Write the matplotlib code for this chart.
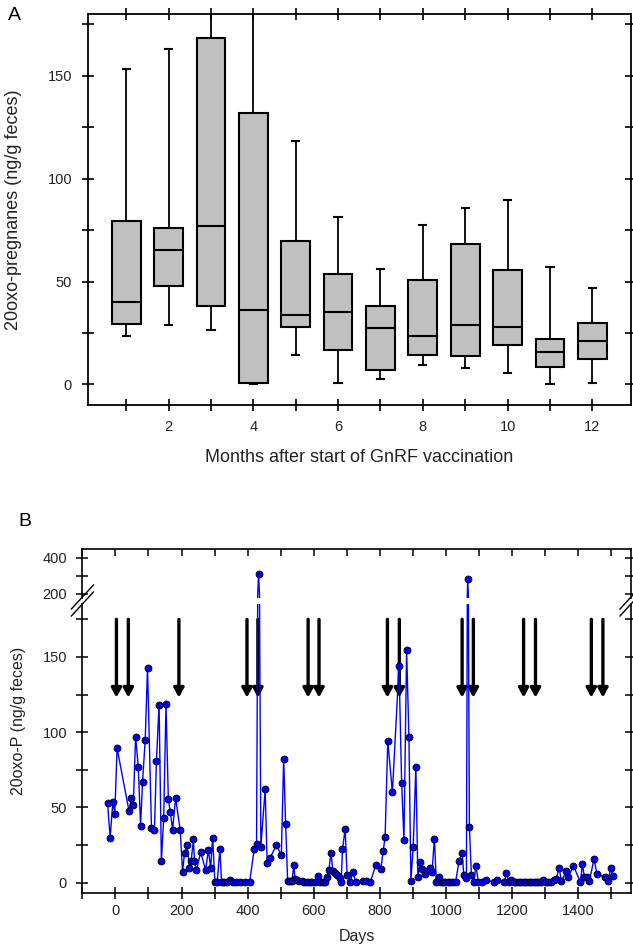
import numpy as np
import matplotlib
matplotlib.use("Agg")
import matplotlib.pyplot as plt
from matplotlib.ticker import MultipleLocator, FixedLocator
from matplotlib.lines import Line2D

plt.rcParams['font.family'] = ['Liberation Sans', 'DejaVu Sans']

# ---- panel A: monthly box plots of 20oxo-pregnanes
months = [1, 2, 3, 4, 5, 6, 7, 8, 9, 10, 11, 12]
whisker_lo = [23.7, 28.7, 26.4, 0.0, 14.4, 0.8, 2.4, 9.6, 7.9, 5.4, 0.3, 0.5]
q1 = [29.5, 47.7, 37.9, 0.6, 27.9, 16.5, 7.0, 14.1, 13.8, 19.1, 8.6, 12.3]
medians = [39.9, 65.2, 77.0, 36.2, 33.9, 35.4, 27.2, 23.5, 28.9, 28.1, 15.7, 20.9]
q3 = [79.3, 76.2, 168.5, 131.8, 69.7, 53.5, 37.9, 50.9, 68.3, 55.8, 21.9, 29.8]
whisker_hi = [153.2, 163.0, 200.0, 200.0, 118.4, 81.4, 56.3, 77.5, 85.9, 89.5, 57.2, 46.9]

# ---- panel B: daily 20oxo-P values and vaccination days
days = [-24, -16, -8, -2, 5, 41, 48, 54, 61, 69, 76, 82, 90, 97, 109, 118, 124, 132,
        139, 146, 153, 160, 166, 173, 182, 196, 203, 209, 217, 224, 229, 236, 239, 245,
        258, 273, 281, 288, 294, 301, 308, 316, 321, 329, 337, 348, 356, 366, 378, 392,
        406, 420, 427, 433, 440, 453, 459, 467, 487, 502, 509, 515, 521, 528, 534, 540,
        543, 549, 555, 563, 571, 580, 588, 596, 604, 612, 619, 627, 633, 639, 646, 652,
        658, 665, 671, 678, 683, 687, 695, 701, 711, 718, 728, 748, 757, 771, 788, 803,
        810, 816, 824, 838, 858, 866, 873, 881, 888, 894, 901, 909, 915, 922, 929, 937,
        944, 952, 958, 965, 971, 978, 984, 991, 998, 1006, 1013, 1021, 1029, 1040, 1049,
        1054, 1062, 1066, 1071, 1077, 1084, 1091, 1098, 1108, 1120, 1145, 1155, 1177,
        1183, 1190, 1198, 1205, 1213, 1220, 1228, 1235, 1243, 1250, 1258, 1265, 1272,
        1280, 1288, 1295, 1303, 1310, 1318, 1326, 1333, 1343, 1349, 1364, 1370, 1386,
        1407, 1413, 1419, 1427, 1434, 1448, 1457, 1480, 1490, 1499, 1506]
oxo_p = [53.2, 30.0, 53.4, 45.9, 89.4, 47.7, 56.3, 51.4, 97.1, 77.2, 37.9, 67.2, 94.5,
         142.6, 36.1, 35.0, 81.2, 118.4, 14.4, 43.0, 119.0, 55.4, 47.2, 35.3, 56.3, 34.8,
         7.3, 19.7, 24.8, 9.8, 14.2, 28.8, 14.2, 8.2, 20.4, 8.2, 22.0, 9.8, 29.9, 0.5, 0.5,
         22.4, 0.5, 0.5, 0.5, 2.0, 0.5, 0.5, 0.5, 0.5, 0.5, 22.4, 26.0, 310.0, 24.0, 62.0,
         13.3, 16.2, 24.8, 18.4, 82.3, 38.8, 1.3, 1.3, 1.3, 11.8, 2.4, 1.8, 1.0, 1.0, 0.5,
         0.5, 0.5, 0.3, 0.3, 4.4, 0.3, 0.3, 0.3, 3.5, 8.4, 20.0, 7.8, 6.7, 4.9, 2.9, 0.2,
         22.2, 35.7, 4.9, 0.3, 6.9, 0.3, 0.8, 0.8, 0.3, 11.8, 9.3, 21.0, 30.6, 94.2, 60.0,
         143.8, 66.0, 28.4, 154.8, 96.9, 1.3, 24.0, 77.2, 3.5, 14.0, 9.1, 5.5, 8.0, 10.0,
         6.9, 29.3, 0.3, 3.5, 0.3, 0.3, 0.3, 0.3, 0.3, 0.3, 0.3, 14.6, 20.0, 5.1, 3.3,
         280.0, 37.2, 5.1, 0.3, 11.0, 0.4, 0.5, 1.8, 0.5, 1.7, 0.5, 6.7, 0.5, 2.0, 0.5,
         0.5, 0.5, 0.5, 0.5, 0.5, 0.5, 0.5, 0.5, 0.5, 0.5, 0.5, 1.6, 0.5, 0.3, 0.5, 1.8,
         2.4, 9.8, 0.9, 7.5, 3.5, 11.3, 0.2, 12.6, 3.5, 3.5, 0.9, 15.7, 6.0, 3.5, 0.9,
         9.8, 4.2]
vaccination_days = [3, 39, 192, 398, 431, 583, 616, 823, 859, 1049, 1083, 1235, 1271, 1440, 1475]
arrow_top, arrow_tip = 175, 123

W, H = 633, 947
fig = plt.figure(figsize=(W / 100, H / 100), dpi=100)
txt = '#222222'


def px(left, top, right, bottom):
    return [left / W, 1 - bottom / H, (right - left) / W, (bottom - top) / H]


# ------------------------------------------------------------ panel A
axA = fig.add_axes(px(88, 14, 630.5, 405))
stats = []
for i in range(len(months)):
    stats.append(dict(med=medians[i], q1=q1[i], q3=q3[i],
                      whislo=whisker_lo[i], whishi=whisker_hi[i], fliers=[]))
axA.bxp(stats, positions=months, widths=0.68, capwidths=0.17, patch_artist=True,
        showfliers=False, manage_ticks=False,
        boxprops=dict(facecolor='#c0c0c0', edgecolor='black', linewidth=1.5),
        medianprops=dict(color='black', linewidth=1.5),
        whiskerprops=dict(color='black', linewidth=1.3),
        capprops=dict(color='black', linewidth=1.5))
axA.set_xlim(0.1, 12.9)
axA.set_ylim(-10, 180)
axA.xaxis.set_major_locator(MultipleLocator(2))
axA.xaxis.set_minor_locator(MultipleLocator(1))
axA.yaxis.set_major_locator(MultipleLocator(50))
axA.yaxis.set_minor_locator(MultipleLocator(25))
axA.tick_params(which='both', direction='inout', length=9, width=1.2,
                top=True, right=True, labelsize=10.5, colors='black', labelcolor=txt)
axA.tick_params(axis='x', pad=6)
axA.tick_params(axis='y', pad=7)
for s in axA.spines.values():
    s.set_linewidth(1.3)
axA.set_xlabel('Months after start of GnRF vaccination', fontsize=13, color=txt)
axA.xaxis.set_label_coords(0.5, -0.112)
axA.set_ylabel('20oxo-pregnanes (ng/g feces)', fontsize=13, color=txt)
axA.yaxis.set_label_coords(-0.122, 0.5)
fig.text(14 / W, 1 - 15 / H, 'A', fontsize=14, ha='center', va='center')

# ------------------------------------------------------------ panel B (broken y axis)
axT = fig.add_axes(px(82.4, 549.3, 631, 598))
axB = fig.add_axes(px(82.4, 604, 631, 892.7))

line_kw = dict(color='#0000ff', lw=1.0, zorder=3)
dot_kw = dict(linestyle='none', marker='o', markersize=5, markerfacecolor='#0000ee',
              markeredgecolor='black', markeredgewidth=0.6, zorder=4)
high = np.ma.masked_less(oxo_p, 190)
low = np.ma.masked_greater(oxo_p, 190)

axT.plot(days, oxo_p, **line_kw)
axT.plot(days, high, **dot_kw)
axB.plot(days, oxo_p, **line_kw)
axB.plot(days, low, **dot_kw)

for ax in (axT, axB):
    ax.set_xlim(-100, 1560)
    ax.xaxis.set_major_locator(MultipleLocator(200))
    ax.xaxis.set_minor_locator(MultipleLocator(100))
    for s in ax.spines.values():
        s.set_linewidth(1.2)

axT.set_ylim(176, 447)
axT.yaxis.set_major_locator(FixedLocator([200, 400]))
axT.yaxis.set_minor_locator(FixedLocator([300]))
axT.spines['bottom'].set_visible(False)
axT.tick_params(axis='x', which='both', bottom=False, labelbottom=False, top=True,
                direction='in', length=5, width=1.1)
axT.tick_params(axis='y', which='both', direction='inout', length=8, width=1.1,
                right=True, labelsize=10.5, labelcolor=txt, pad=7)

axB.set_ylim(-6.65, 185.2)
axB.yaxis.set_major_locator(MultipleLocator(50))
axB.yaxis.set_minor_locator(MultipleLocator(25))
axB.spines['top'].set_visible(False)
axB.tick_params(which='both', direction='inout', length=8, width=1.1, right=True,
                labelsize=10.5, labelcolor=txt)
axB.tick_params(axis='x', pad=4)
axB.tick_params(axis='y', pad=7)

for d in vaccination_days:
    axB.annotate('', xy=(d, arrow_tip), xytext=(d, arrow_top),
                 arrowprops=dict(arrowstyle='-|>,head_length=0.55,head_width=0.3',
                                 color='black', lw=2.4, shrinkA=0, shrinkB=0),
                 zorder=2)

axB.set_xlabel('Days', fontsize=11.5, color=txt)
axB.xaxis.set_label_coords(0.5, -0.125)
fig.text(19 / W, 1 - 721 / H, '20oxo-P (ng/g feces)', rotation=90, fontsize=11.5,
         ha='center', va='center', color=txt)
fig.text(25 / W, 1 - 521 / H, 'B', fontsize=14, ha='center', va='center')

# break marks on both spines
for xs in (82.4, 631):
    for yc in (597, 604):
        fig.add_artist(Line2D([(xs - 11) / W, (xs + 11) / W],
                              [1 - (yc + 12) / H, 1 - (yc - 12) / H],
                              color='black', lw=1.0))

fig.savefig('out.png', dpi=100)
